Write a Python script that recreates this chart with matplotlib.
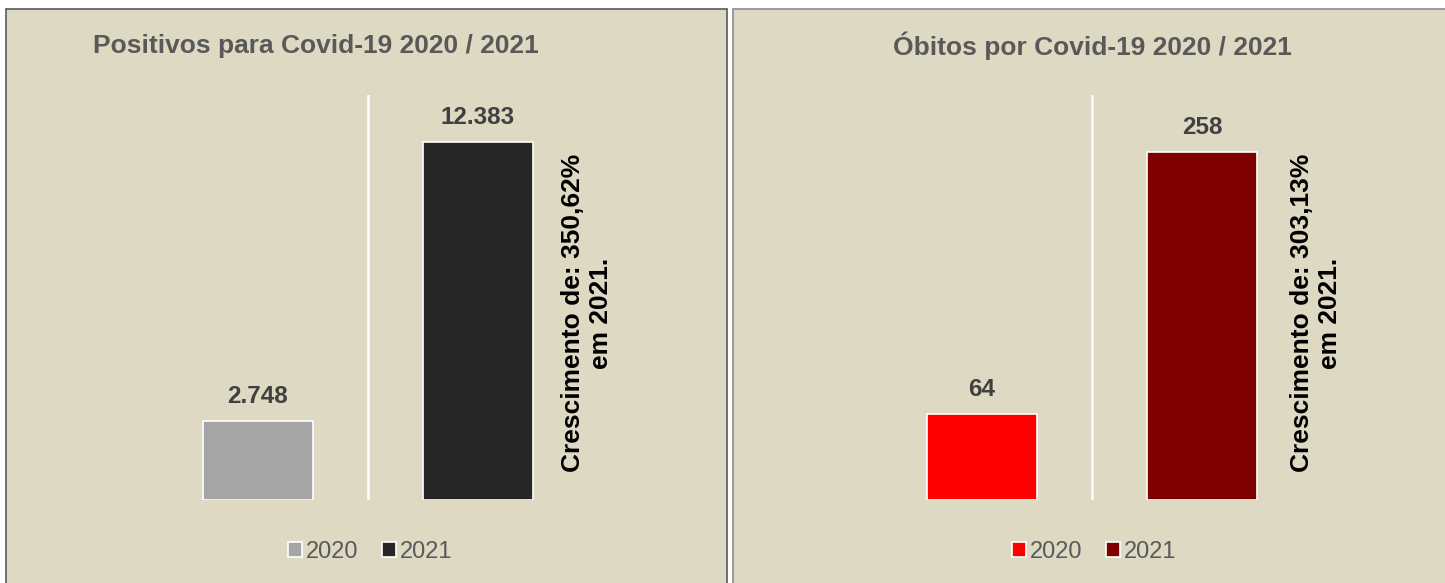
import matplotlib.pyplot as plt
from matplotlib.patches import Rectangle

plt.rcParams['font.family'] = ['Liberation Sans', 'DejaVu Sans']

# dados
anos = ['2020', '2021']
positivos = [2748, 12383]
obitos = [64, 258]
rotulos_pos = ['2.748', '12.383']
rotulos_obi = ['64', '258']
titulo_pos = 'Positivos para Covid-19 2020 / 2021'
titulo_obi = 'Óbitos por Covid-19 2020 / 2021'
nota_pos = 'Crescimento de: 350,62%\nem 2021.'
nota_obi = 'Crescimento de: 303,13%\nem 2021.'
cores_pos = ['#A5A5A5', '#262626']
cores_obi = ['#FF0000', '#7F0000']

W, H = 1445, 583
fundo = '#DDD9C3'

fig = plt.figure(figsize=(W / 100, H / 100), dpi=100)
fig.patch.set_facecolor('white')


def px(x, y):
    return x / W, 1 - y / H


# paineis de fundo
fig.patches.append(Rectangle(px(6, 600), 721 / W, 591 / H, transform=fig.transFigure,
                             facecolor=fundo, edgecolor='#595959', linewidth=1.2, zorder=-5))
fig.patches.append(Rectangle(px(733, 600), 730 / W, 591 / H, transform=fig.transFigure,
                             facecolor=fundo, edgecolor='#8c8c8c', linewidth=1.2, zorder=-5))


def painel(x0, valores, rotulos, cores, ymax, titulo, nota, xt, xn):
    ax = fig.add_axes([x0 / W, 1 - 500 / H, 440 / W, 405 / H])
    ax.set_facecolor('none')
    barras = ax.bar([0, 1], valores, width=0.5, color=cores, edgecolor='white', linewidth=1.2)
    ax.set_xlim(-0.5, 1.5)
    ax.set_ylim(0, ymax)
    ax.axvline(0.5, color='white', linewidth=1.8)
    for b, r in zip(barras, rotulos):
        ax.annotate(r, (b.get_x() + b.get_width() / 2, b.get_height()), xytext=(0, 9),
                    textcoords='offset points', ha='center', va='bottom',
                    fontsize=17.5, fontweight='bold', color='#404040')
    ax.axis('off')
    fig.text(*px(xt, 46), titulo, ha='center', va='center', fontsize=19,
             fontweight='bold', color='#595959')
    fig.text(*px(xn, 313), nota, ha='center', va='center', rotation=90,
             fontsize=19, fontweight='bold', color='black', multialignment='center',
             linespacing=1.25)
    fig.legend(barras, anos, loc='center', bbox_to_anchor=px(x0 + 222, 552), ncol=2,
               frameon=False, fontsize=17, labelcolor='#595959', handlelength=0.6,
               handleheight=0.6, handletextpad=0.15, columnspacing=1.0)


painel(148, positivos, rotulos_pos, cores_pos, 14000, titulo_pos, nota_pos, 316, 587)
painel(872, obitos, rotulos_obi, cores_obi, 300, titulo_obi, nota_obi, 1092, 1316)

plt.savefig('out.png', dpi=100, facecolor='white')
